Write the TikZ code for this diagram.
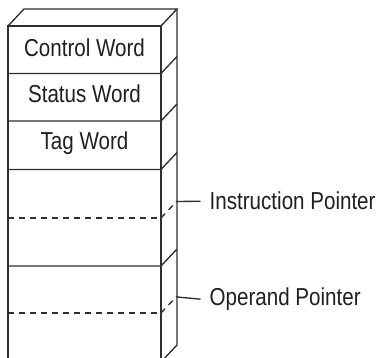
\documentclass[tikz,border=0pt]{standalone}
\usepackage{fontspec}
\setmainfont{Liberation Sans}[FakeStretch=0.84]
\begin{document}
\begin{tikzpicture}[x=1pt,y=-1pt,
  edge/.style={draw=black!82,line width=1.35pt},
  dashedge/.style={draw=black!82,line width=1.35pt,dash pattern=on 6pt off 5pt},
  lbl/.style={font=\fontsize{24.5}{28}\selectfont,text=black!88,inner sep=0pt}]
\useasboundingbox (0,0) rectangle (378,358);
\begin{scope}
\clip (0,0) rectangle (378,358);
% front face
\draw[edge] (8,26) rectangle (161,362);
% top face and back edge
\draw[edge] (8,26) -- (24,9) -- (177,9) -- (161,26);
\draw[edge] (177,9) -- (177,345) -- (161,362);
% row separators with diagonals
\foreach \y in {73.5,121,169.5,266}{
  \draw[edge] (8,\y) -- (161,\y) -- (177,\y-17);
}
% dashed separators
\foreach \y in {218,313}{
  \draw[dashedge] (8,\y) -- (161,\y);
  \draw[dashedge] (161,\y) -- (177,\y-17);
}
\end{scope}
% labels
\node[lbl,anchor=base] (cw) at (84.5,56.7) {Control Word};
\node[lbl,anchor=base] (sw) at (84.5,102.7) {Status Word};
\node[lbl,anchor=base] (tw) at (84.5,149.3) {Tag Word};
\node[lbl,anchor=base west] (ipl) at (209.5,210) {Instruction Pointer};
\node[lbl,anchor=base west] (opl) at (209.5,305.5) {Operand Pointer};
\coordinate (ip) at (177,201.5);
\coordinate (op) at (177,297);
\draw[edge] (ip) -- ([xshift=-9pt]ipl.west);
\draw[edge] (op) -- ([xshift=-9pt]opl.west);
\end{tikzpicture}
\end{document}
